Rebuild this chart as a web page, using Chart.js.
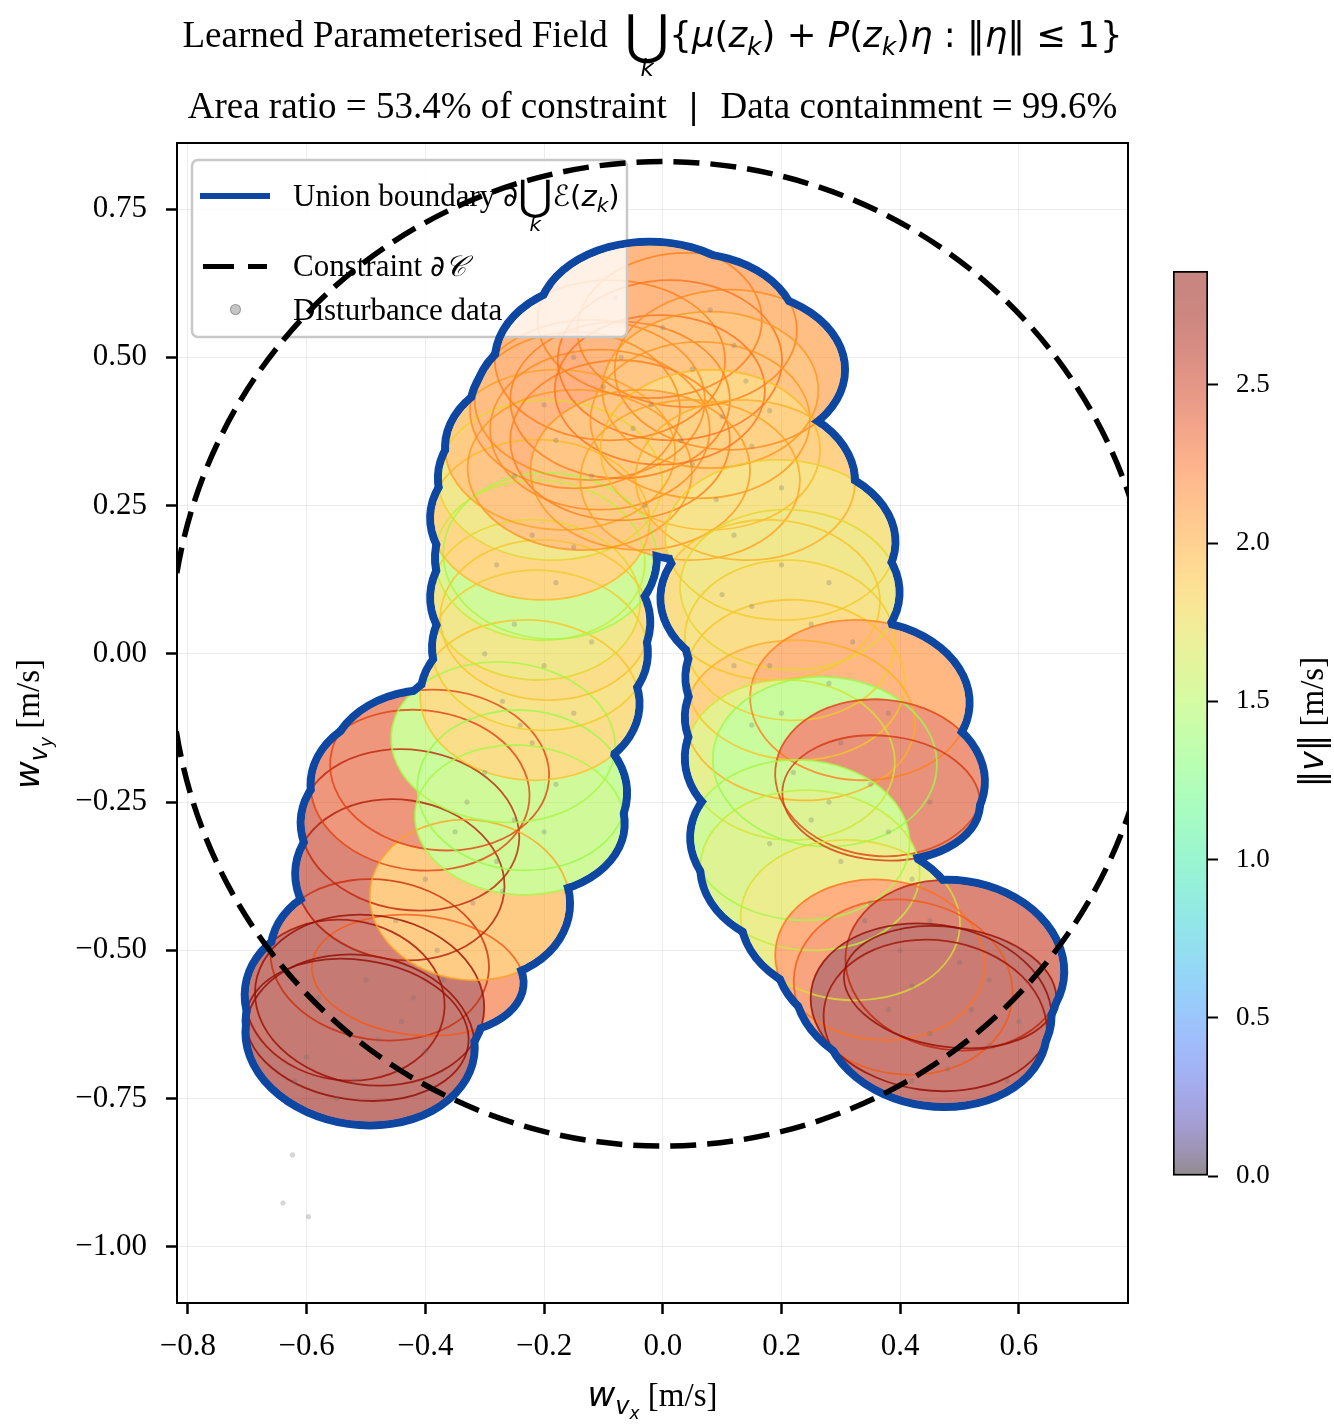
<!DOCTYPE html>
<html><head><meta charset="utf-8">
<script src="https://cdn.jsdelivr.net/npm/chart.js@4.4.1/dist/chart.umd.min.js"></script>
<style>
html,body{margin:0;padding:0;background:#fff;}
#wrap{position:relative;width:1334px;height:1428px;overflow:hidden;font-family:'Liberation Serif','Times New Roman',serif;color:#000;}
canvas{position:absolute;}
.m{font-family:'DejaVu Sans',sans-serif;}
.it{font-style:italic;}
.abs{position:absolute;white-space:nowrap;}
.bigop{display:inline-block;position:relative;line-height:0.8;vertical-align:-4px;}
.under{position:absolute;left:50%;transform:translateX(-50%);top:100%;line-height:1;font-style:italic;}
sub{vertical-align:baseline;position:relative;line-height:0;}
</style></head>
<body><div id="wrap">
<canvas id="main" width="1334" height="1428" style="left:0;top:0"></canvas>
<canvas id="cb" width="184" height="990" style="left:1150px;top:230px"></canvas>

<!-- title -->
<div class="abs" style="left:177px;width:951px;top:13px;text-align:center;font-size:37px;line-height:44px;">Learned Parameterised Field <span class="m" style="font-size:35.5px;margin-left:8px;"><span class="bigop" style="font-size:54px;vertical-align:-6px;">⋃<span class="under" style="font-size:23px;top:102%;">k</span></span>{<span class="it">μ</span>(<span class="it">z</span><sub class="it" style="font-size:25px;top:8px;">k</sub>) + <span class="it">P</span>(<span class="it">z</span><sub class="it" style="font-size:25px;top:8px;">k</sub>)<span class="it">η</span> : ‖<span class="it">η</span>‖ ≤ 1}</span></div>
<div class="abs" style="left:177px;width:951px;top:84px;text-align:center;font-size:37px;line-height:44px;">Area ratio = 53.4% of constraint <span class="m" style="font-size:33px;margin:0 12px;">|</span> Data containment = 99.6%</div>

<!-- legend text -->
<div class="abs" style="left:200px;top:193px;width:70px;height:6px;background:#0d47a1;"></div>
<div class="abs" style="left:203px;top:264px;width:31px;height:5px;background:#000;"></div>
<div class="abs" style="left:248px;top:264px;width:19px;height:5px;background:#000;"></div>
<div class="abs" style="left:230px;top:304px;width:9px;height:9px;border-radius:50%;background:rgba(150,150,150,0.55);border:1.5px solid rgba(120,120,120,0.6);"></div>
<div class="abs" style="left:293px;top:176px;font-size:31px;line-height:40px;">Union boundary <span class="m" style="font-size:29px;">∂<span class="bigop" style="font-size:42px;">⋃<span class="under" style="font-size:20px;top:105%;">k</span></span><span class="it">ℰ</span>(<span class="it">z</span><sub class="it" style="font-size:20px;top:6px;">k</sub>)</span></div>
<div class="abs" style="left:293px;top:246px;font-size:31px;line-height:40px;">Constraint <span class="m it" style="font-size:29px;">∂𝒞</span></div>
<div class="abs" style="left:293px;top:290px;font-size:31px;line-height:40px;">Disturbance data</div>

<!-- axis labels -->
<div class="abs" style="left:177px;width:951px;top:1372px;text-align:center;line-height:44px;"><span class="m it" style="font-size:34px;">w<sub style="font-size:24px;top:8px;">v<sub style="font-size:17px;top:5px;">x</sub></sub></span><span style="font-size:33px;"> [m/s]</span></div>
<div class="abs" style="left:-123px;width:300px;top:702px;height:44px;text-align:center;line-height:44px;transform:rotate(-90deg);"><span class="m it" style="font-size:34px;">w<sub style="font-size:24px;top:8px;">v<sub style="font-size:17px;top:5px;">y</sub></sub></span><span style="font-size:33px;"> [m/s]</span></div>
<div class="abs" style="left:1162px;width:300px;top:700px;height:44px;text-align:center;line-height:44px;transform:rotate(-90deg);"><span class="m" style="font-size:33px;">‖<span class="it">v</span>‖</span><span style="font-size:33px;"> [m/s]</span></div>
</div>

<script>
// ---------------- data ----------------
const vmax = 2.86;
// ellipse centres (m/s), semi-axes, orientation (deg), speed ||v|| (m/s)
const ellX = [-0.477,-0.413,-0.510,-0.515,-0.536,-0.494,-0.443,-0.426,-0.409,-0.325,-0.376,-0.269,-0.237,-0.241,-0.224,-0.207,-0.198,-0.215,-0.207,-0.190,-0.207,-0.190,-0.173,
  -0.140,-0.123,-0.106,-0.148,-0.089,-0.072,-0.072,-0.022,-0.005,0.012,0.041,0.113,0.080,0.063,0.080,-0.038,0.046,
  0.139,0.198,0.181,0.214,0.214,0.223,0.231,0.332,0.214,0.273,0.366,0.368,0.231,0.248,0.316,0.366,0.405,0.492,0.452,0.484,0.459];
const ellY = [-0.516,-0.542,-0.651,-0.634,-0.584,-0.584,-0.381,-0.297,-0.230,-0.415,-0.196,-0.149,-0.230,-0.280,-0.078,0.006,0.057,0.091,0.158,0.165,0.226,0.293,0.344,
  0.310,0.428,0.378,0.411,0.495,0.428,0.360,0.563,0.445,0.495,0.546,0.479,0.445,0.394,0.344,0.310,0.293,
  0.293,0.192,0.091,0.108,0.023,-0.044,-0.112,-0.078,-0.179,-0.182,-0.209,-0.243,-0.314,-0.365,-0.449,-0.516,-0.562,-0.525,-0.596,-0.562,-0.623];
const ellA = [0.185,0.179,0.194,0.189,0.169,0.194,0.177,0.185,0.185,0.169,0.185,0.189,0.177,0.177,0.185,0.182,0.177,0.177,0.177,0.180,0.185,0.189,0.194,
  0.189,0.194,0.185,0.177,0.194,0.185,0.185,0.189,0.177,0.189,0.185,0.194,0.182,0.185,0.185,0.185,0.185,
  0.185,0.194,0.185,0.185,0.177,0.185,0.194,0.185,0.177,0.189,0.177,0.167,0.185,0.185,0.185,0.177,0.185,0.185,0.204,0.180,0.189];
const ellB = [0.135,0.101,0.143,0.118,0.135,0.143,0.135,0.135,0.135,0.135,0.135,0.135,0.135,0.126,0.135,0.135,0.135,0.135,0.135,0.140,0.135,0.135,0.135,
  0.135,0.135,0.135,0.132,0.135,0.132,0.135,0.132,0.126,0.135,0.130,0.135,0.132,0.132,0.135,0.135,0.135,
  0.135,0.135,0.135,0.135,0.135,0.135,0.135,0.135,0.135,0.143,0.132,0.105,0.135,0.135,0.135,0.135,0.147,0.143,0.140,0.101,0.140];
const ellAng = [-8,-6,-8,-8,-8,-8,-8,-8,-6,-6,-6,-4,-4,-4,-4,-3,-3,-3,-3,-3,-2,-2,-2,
  -2,0,0,0,0,0,0,0,0,0,0,0,0,0,0,0,0,
  -2,-2,-2,-3,-3,-3,-3,-3,-3,-3,-5,-5,-3,-3,-4,-6,-8,-8,-8,-8,-8];
const ellSpeed = [2.50,2.30,2.80,2.80,2.70,2.75,2.60,2.55,2.40,2.00,2.40,1.50,1.45,1.50,1.85,1.80,1.85,1.75,1.60,1.50,1.90,1.75,2.00,
  2.05,2.10,2.10,2.10,2.15,2.15,2.15,2.15,2.20,2.20,2.15,2.10,2.05,2.05,1.90,2.05,2.00,
  1.95,1.80,1.85,1.75,1.80,1.85,1.95,2.15,1.65,1.45,2.40,2.45,1.50,1.60,1.70,2.20,2.30,2.55,2.80,2.75,2.70];

// disturbance samples
const dataX = [-0.10,0.05,-0.05,0.10,-0.15,0.00,0.08,-0.08,0.12,-0.20,0.15,-0.12,0.05,-0.25,0.20,
  -0.02,0.03,-0.07,0.14,-0.18,0.09,-0.03,0.18,
  -0.22,-0.18,-0.25,-0.20,-0.27,-0.15,-0.22,-0.30,-0.18,-0.25,-0.35,-0.28,-0.40,-0.32,-0.45,-0.38,-0.50,-0.42,-0.55,-0.48,-0.60,-0.45,-0.52,
  -0.28,-0.15,-0.30,-0.12,-0.24,-0.33,-0.20,-0.27,-0.37,-0.58,-0.44,-0.62,-0.40,-0.55,
  0.12,0.20,0.15,0.25,0.18,0.28,0.20,0.30,0.22,0.35,0.25,0.38,0.30,0.42,0.35,0.45,0.40,0.50,0.42,0.52,0.45,0.55,0.48,
  0.10,0.28,0.12,0.32,0.15,0.38,0.28,0.45,0.18,0.34,0.55,0.38,0.60,0.42,0.58,
  -0.624,-0.640,-0.597];
const dataY = [0.45,0.48,0.38,0.40,0.50,0.55,0.58,0.60,0.52,0.42,0.35,0.30,0.32,0.30,0.28,
  0.42,0.36,0.50,0.46,0.36,0.26,0.25,0.41,
  0.20,0.12,0.05,-0.02,-0.08,-0.10,-0.15,-0.20,-0.22,-0.28,-0.30,-0.35,-0.38,-0.42,-0.45,-0.50,-0.55,-0.58,-0.62,-0.65,-0.68,-0.70,-0.72,
  0.15,0.18,0.00,0.02,-0.12,-0.25,-0.30,-0.40,-0.55,-0.58,-0.62,-0.72,-0.67,-0.75,
  0.20,0.15,0.08,0.05,-0.02,-0.05,-0.10,-0.15,-0.20,-0.22,-0.28,-0.30,-0.35,-0.38,-0.42,-0.45,-0.50,-0.52,-0.56,-0.60,-0.64,-0.66,-0.70,
  0.10,0.12,-0.02,0.02,-0.12,-0.10,-0.25,-0.25,-0.32,-0.45,-0.55,-0.60,-0.62,-0.72,-0.72,
  -0.845,-0.926,-0.949];

const constraintCenter = [0, 0];
const constraintRadius = 0.83;
const xTicks = [-0.8,-0.6,-0.4,-0.2,0.0,0.2,0.4,0.6];
const yTicks = [0.75,0.50,0.25,0.00,-0.25,-0.50,-0.75,-1.00];
const cbTicks = [0.0,0.5,1.0,1.5,2.0,2.5];

// ---------------- helpers ----------------
function turbo(t){
  t = Math.max(0, Math.min(1, t));
  const r = 0.13572138 + t*(4.61539260 + t*(-42.66032258 + t*(132.13108234 + t*(-152.94239396 + t*59.28637943))));
  const g = 0.09140261 + t*(2.19418839 + t*(4.84296658 + t*(-14.18503333 + t*(4.27729857 + t*2.82956604))));
  const b = 0.10667330 + t*(12.64194608 + t*(-60.58204836 + t*(110.36276771 + t*(-89.90310912 + t*27.34824973))));
  return [r,g,b].map(v => Math.round(255*Math.max(0, Math.min(1, v))));
}
function blend(c, a){ return c.map(v => Math.round(255*(1-a) + v*a)); }
function fmt(v, d){ const s = Math.abs(v).toFixed(d); return (v < -1e-9 ? '\u2212' : '') + s; }

function ellPath(ctx, chart, i, shrink){
  const xs = chart.scales.x, ys = chart.scales.y;
  const cx = xs.getPixelForValue(ellX[i]), cy = ys.getPixelForValue(ellY[i]);
  const rx = Math.abs(xs.getPixelForValue(ellX[i] + ellA[i]) - cx) - shrink;
  const ry = Math.abs(ys.getPixelForValue(ellY[i] + ellB[i]) - cy) - shrink;
  ctx.beginPath();
  ctx.ellipse(cx, cy, Math.max(rx,0.5), Math.max(ry,0.5), -ellAng[i]*Math.PI/180, 0, 2*Math.PI);
}

const fieldPlugin = {
  id: 'field',
  beforeDatasetsDraw(chart){
    const ctx = chart.ctx;
    const off = document.createElement('canvas');
    off.width = chart.canvas.width; off.height = chart.canvas.height;
    const o = off.getContext('2d');
    for (let i = 0; i < ellX.length; i++){
      ellPath(o, chart, i, 0);
      o.fillStyle = 'rgb(' + turbo(ellSpeed[i]/vmax).join(',') + ')';
      o.fill();
    }
    ctx.save();
    ctx.globalAlpha = 0.55;
    ctx.drawImage(off, 0, 0, chart.width, chart.height);
    ctx.restore();
    ctx.save();
    ctx.lineWidth = 1.8;
    for (let i = 0; i < ellX.length; i++){
      ellPath(ctx, chart, i, 0);
      ctx.strokeStyle = 'rgba(' + turbo(ellSpeed[i]/vmax).join(',') + ',0.8)';
      ctx.stroke();
    }
    ctx.restore();
  },
  afterDatasetsDraw(chart){
    const ctx = chart.ctx, ca = chart.chartArea;
    // legend frame (under boundary & constraint, like the reference)
    ctx.save();
    ctx.beginPath();
    ctx.roundRect(192, 160, 435, 177, 6);
    ctx.fillStyle = 'rgba(255,255,255,0.8)';
    ctx.fill();
    ctx.lineWidth = 2.5;
    ctx.strokeStyle = 'rgba(200,200,200,1)';
    ctx.stroke();
    ctx.restore();
    // union boundary
    const off = document.createElement('canvas');
    off.width = chart.canvas.width; off.height = chart.canvas.height;
    const o = off.getContext('2d');
    o.strokeStyle = '#0d47a1';
    o.lineWidth = 8;
    for (let i = 0; i < ellX.length; i++){ ellPath(o, chart, i, 0); o.stroke(); }
    o.globalCompositeOperation = 'destination-out';
    o.fillStyle = '#000';
    for (let i = 0; i < ellX.length; i++){ ellPath(o, chart, i, 4); o.fill(); }
    ctx.drawImage(off, 0, 0, chart.width, chart.height);
    // constraint circle
    const xs = chart.scales.x, ys = chart.scales.y;
    const cx = xs.getPixelForValue(constraintCenter[0]), cy = ys.getPixelForValue(constraintCenter[1]);
    const rx = Math.abs(xs.getPixelForValue(constraintCenter[0] + constraintRadius) - cx);
    const ry = Math.abs(ys.getPixelForValue(constraintCenter[1] + constraintRadius) - cy);
    ctx.save();
    ctx.beginPath(); ctx.rect(ca.left, ca.top, ca.width, ca.height); ctx.clip();
    ctx.beginPath(); ctx.ellipse(cx, cy, rx, ry, 0, 0, 2*Math.PI);
    ctx.setLineDash([26, 11]);
    ctx.lineWidth = 5.5; ctx.strokeStyle = '#000';
    ctx.stroke();
    ctx.restore();
    // axes frame
    ctx.save();
    ctx.lineWidth = 2; ctx.strokeStyle = '#000';
    ctx.strokeRect(ca.left, ca.top, ca.width, ca.height);
    ctx.restore();
  }
};

const tickFont = {family: "'Liberation Serif', 'Times New Roman', serif", size: 31};
const gridOpts = {color: 'rgba(0,0,0,0.07)', lineWidth: 1, tickColor: '#000', tickWidth: 2.5, tickLength: 11};

new Chart(document.getElementById('main'), {
  type: 'scatter',
  data: {datasets: [{
    label: 'Disturbance data',
    data: dataX.map((x, i) => ({x: x, y: dataY[i]})),
    pointRadius: 2.6, pointBorderWidth: 0,
    pointBackgroundColor: 'rgba(110,110,110,0.28)'
  }]},
  options: {
    responsive: false, animation: false, events: [],
    layout: {padding: {top: 143, right: 206, left: 0, bottom: 0}},
    plugins: {legend: {display: false}, tooltip: {enabled: false}, title: {display: false}},
    scales: {
      x: {type: 'linear', min: -0.8185, max: 0.7838,
        afterBuildTicks: s => { s.ticks = xTicks.map(v => ({value: v})); },
        afterFit: s => { s.height = 125; },
        ticks: {font: tickFont, color: '#000', padding: 14, maxRotation: 0, autoSkip: false, callback: v => fmt(v, 1)},
        grid: gridOpts, border: {display: false}},
      y: {type: 'linear', min: -1.0946, max: 0.8613,
        afterBuildTicks: s => { s.ticks = yTicks.map(v => ({value: v})); },
        afterFit: s => { s.width = 177; },
        ticks: {font: tickFont, color: '#000', padding: 19, autoSkip: false, callback: v => fmt(v, 2)},
        grid: gridOpts, border: {display: false}}
    }
  },
  plugins: [fieldPlugin]
});

// colour bar
new Chart(document.getElementById('cb'), {
  type: 'bar',
  data: {labels: [''], datasets: [{
    data: [[0, vmax]],
    backgroundColor: (c) => {
      const ca = c.chart.chartArea;
      if (!ca) return 'rgba(0,0,0,0)';
      const g = c.chart.ctx.createLinearGradient(0, ca.bottom, 0, ca.top);
      for (let k = 0; k <= 40; k++){
        g.addColorStop(k/40, 'rgb(' + blend(turbo(k/40), 0.5).join(',') + ')');
      }
      return g;
    },
    borderColor: '#000', borderWidth: 2, borderSkipped: false,
    barPercentage: 1, categoryPercentage: 1
  }]},
  options: {
    responsive: false, animation: false, events: [],
    layout: {padding: {left: 23, top: 41, bottom: 44, right: 0}},
    plugins: {legend: {display: false}, tooltip: {enabled: false}},
    scales: {
      x: {display: false},
      y: {position: 'right', min: 0, max: vmax,
        afterBuildTicks: s => { s.ticks = cbTicks.map(v => ({value: v})); },
        afterFit: s => { s.width = 126; },
        ticks: {font: {family: "'Liberation Serif', serif", size: 27}, color: '#000', padding: 18, autoSkip: false, callback: v => v.toFixed(1)},
        grid: {drawOnChartArea: false, tickColor: '#000', tickWidth: 2, tickLength: 10},
        border: {display: false}}
    }
  }
});
</script>
</body></html>
